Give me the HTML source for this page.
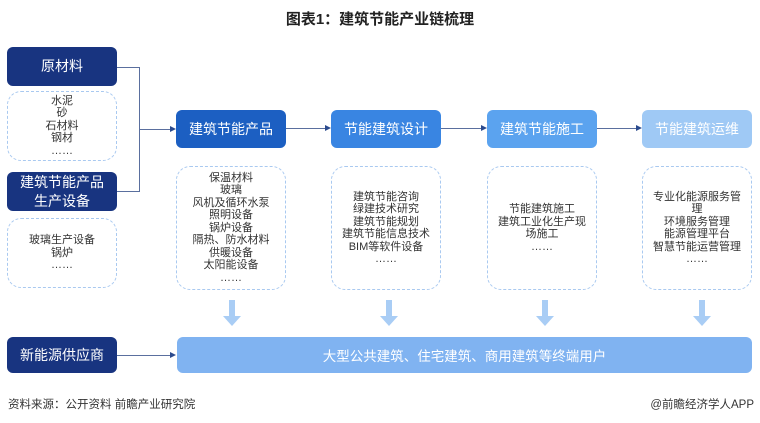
<!DOCTYPE html>
<html><head><meta charset="utf-8"><style>
*{margin:0;padding:0;box-sizing:border-box}
body{width:760px;height:423px;background:#fff;position:relative;overflow:hidden;font-family:"Liberation Sans","Noto Sans CJK SC",sans-serif}
.a{position:absolute}
.bx{position:absolute;display:flex;align-items:center;justify-content:center;text-align:center;color:#fff;border-radius:6px}
.nv{background:#183480;font-size:14px;line-height:19px}
.dash{position:absolute;border:1.5px dashed #a9c9f0;border-radius:14px;display:flex;flex-direction:column;align-items:center;justify-content:center;text-align:center;font-size:11px;line-height:12.5px;color:#333}
.top{font-size:14px;top:110px;height:38px;width:110px}
.ln{position:absolute;background:#5a6f9e}
.ar{position:absolute;width:0;height:0;border-top:3.5px solid transparent;border-bottom:3.5px solid transparent;border-left:6px solid #2a4a8e}
.dn{position:absolute;top:300px;width:18px;height:26px}
</style></head><body>
<div class="a" style="left:0;width:760px;top:8px;text-align:center;font-size:15px;font-weight:bold;color:#222">图表1：建筑节能产业链梳理</div>

<div class="bx nv" style="left:7px;top:47px;width:110px;height:39px">原材料</div>
<div class="dash" style="left:7px;top:91px;width:110px;height:70px">水泥<br>砂<br>石材料<br>钢材<br>……</div>
<div class="bx nv" style="left:7px;top:172px;width:110px;height:39px">建筑节能产品<br>生产设备</div>
<div class="dash" style="left:7px;top:218px;width:110px;height:70px">玻璃生产设备<br>锅炉<br>……</div>

<div class="ln" style="left:117px;top:67px;width:22px;height:1px"></div>
<div class="ln" style="left:117px;top:191px;width:22px;height:1px"></div>
<div class="ln" style="left:139px;top:67px;width:1px;height:125px"></div>
<div class="ln" style="left:139px;top:129px;width:31px;height:1px"></div>
<div class="ar" style="left:170px;top:126px"></div>

<div class="bx top" style="left:176px;background:#1c5fc2">建筑节能产品</div>
<div class="bx top" style="left:331px;background:#3985e2">节能建筑设计</div>
<div class="bx top" style="left:487px;background:#5ba3ef">建筑节能施工</div>
<div class="bx top" style="left:642px;background:#9fc9f5">节能建筑运维</div>

<div class="ln" style="left:286px;top:128px;width:39px;height:1px"></div><div class="ar" style="left:325px;top:125px"></div>
<div class="ln" style="left:441px;top:128px;width:40px;height:1px"></div><div class="ar" style="left:481px;top:125px"></div>
<div class="ln" style="left:597px;top:128px;width:39px;height:1px"></div><div class="ar" style="left:636px;top:125px"></div>

<div class="dash" style="left:176px;top:166px;width:110px;height:124px">保温材料<br>玻璃<br>风机及循环水泵<br>照明设备<br>锅炉设备<br>隔热、防水材料<br>供暖设备<br>太阳能设备<br>……</div>
<div class="dash" style="left:331px;top:166px;width:110px;height:124px">建筑节能咨询<br>绿建技术研究<br>建筑节能规划<br>建筑节能信息技术<br>BIM等软件设备<br>……</div>
<div class="dash" style="left:487px;top:166px;width:110px;height:124px">节能建筑施工<br>建筑工业化生产现<br>场施工<br>……</div>
<div class="dash" style="left:642px;top:166px;width:110px;height:124px">专业化能源服务管<br>理<br>环境服务管理<br>能源管理平台<br>智慧节能运营管理<br>……</div>

<svg class="dn" style="left:223px" viewBox="0 0 18 26"><path d="M6 0h6v16h6l-9 10-9-10h6z" fill="#a9cdf5"/></svg>
<svg class="dn" style="left:380px" viewBox="0 0 18 26"><path d="M6 0h6v16h6l-9 10-9-10h6z" fill="#a9cdf5"/></svg>
<svg class="dn" style="left:536px" viewBox="0 0 18 26"><path d="M6 0h6v16h6l-9 10-9-10h6z" fill="#a9cdf5"/></svg>
<svg class="dn" style="left:693px" viewBox="0 0 18 26"><path d="M6 0h6v16h6l-9 10-9-10h6z" fill="#a9cdf5"/></svg>

<div class="bx nv" style="left:7px;top:337px;width:110px;height:36px">新能源供应商</div>
<div class="ln" style="left:117px;top:355px;width:53px;height:1px"></div><div class="ar" style="left:170px;top:352px"></div>
<div class="bx" style="left:177px;top:337px;width:575px;height:36px;background:#80b3f1;font-size:13.5px">大型公共建筑、住宅建筑、商用建筑等终端用户</div>

<div class="a" style="left:8px;top:396px;font-size:11.5px;color:#333">资料来源：公开资料 前瞻产业研究院</div>
<div class="a" style="right:6px;top:396px;font-size:11.5px;color:#333">@前瞻经济学人APP</div>
</body></html>
